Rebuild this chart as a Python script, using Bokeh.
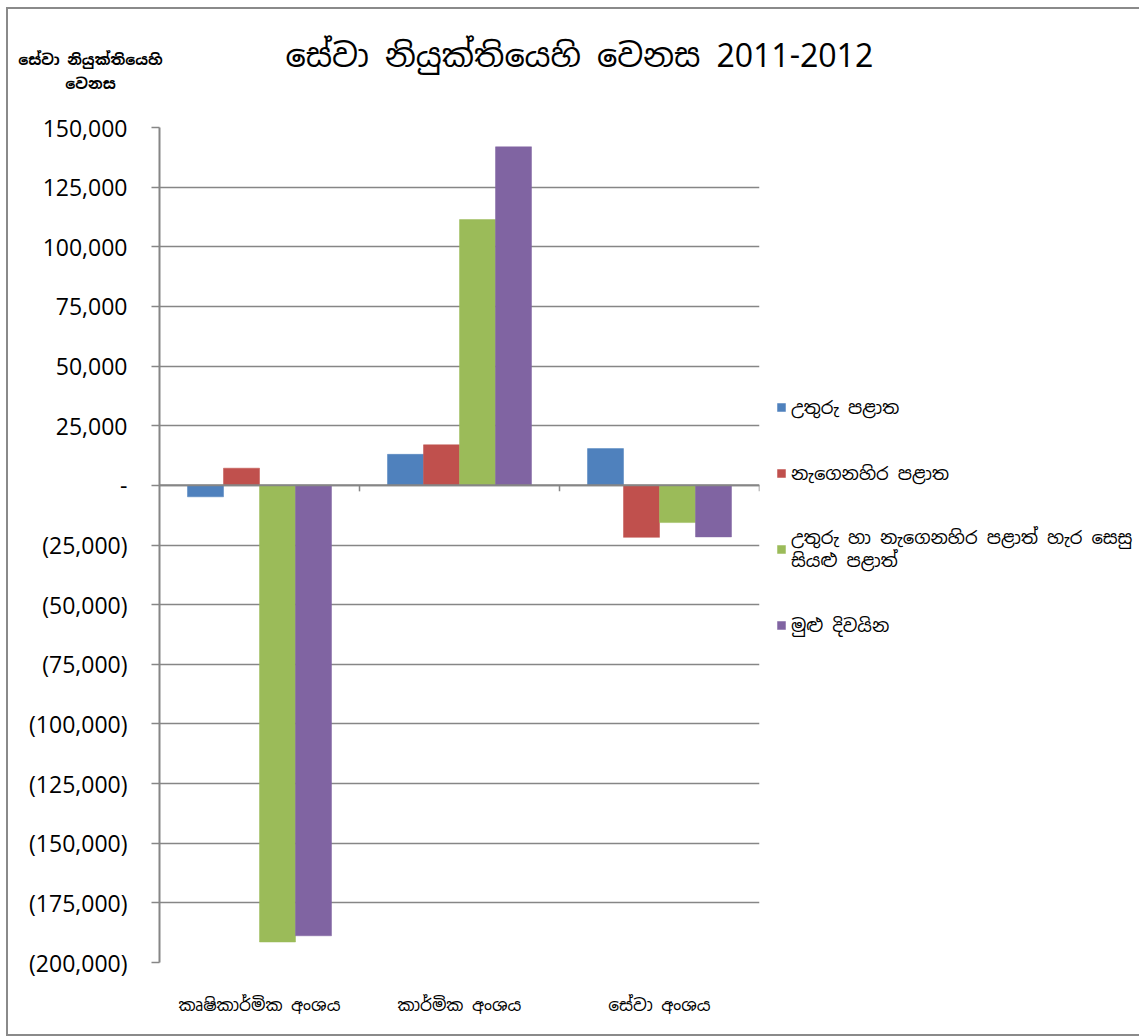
import math
from bokeh.plotting import figure
from bokeh.models import FactorRange, Range1d, FixedTicker, Span, Label, Legend, LegendItem
from bokeh.transform import dodge
from bokeh.embed import file_html
from bokeh.resources import INLINE

# ---- data ----
categories = ["කෘෂිකාර්මික අංශය", "කාර්මික අංශය", "සේවා අංශය"]
series_names = [
    "උතුරු පළාත",
    "නැගෙනහිර පළාත",
    "උතුරු හා නැගෙනහිර පළාත් හැර සෙසු\nසියළු පළාත්",
    "මුළු දිවයින",
]
northern = [-4800, 13000, 15400]
eastern = [7200, 17000, -21800]
other_provinces = [-191400, 111400, -15600]
all_island = [-188800, 141900, -21600]
series_colors = ["#4F81BD", "#C0504D", "#9BBB59", "#8064A2"]

y_ticks = [150000, 125000, 100000, 75000, 50000, 25000, 0, -25000, -50000,
           -75000, -100000, -125000, -150000, -175000, -200000]
y_tick_labels = ["150,000", "125,000", "100,000", "75,000", "50,000", "25,000", "-",
                 "(25,000)", "(50,000)", "(75,000)", "(100,000)", "(125,000)",
                 "(150,000)", "(175,000)", "(200,000)"]

title_text = "සේවා නියුක්තියෙහි වෙනස 2011-2012"
y_title_text = "සේවා නියුක්තියෙහි\nවෙනස"

SIN = "Noto Sans Sinhala, Iskoola Pota, Noto Sans, DejaVu Sans, sans-serif"
NUM = "Open Sans"
GRID = "#868686"

data = dict(cat=categories, s0=northern, s1=eastern, s2=other_provinces, s3=all_island)

p = figure(
    frame_width=600, frame_height=835,
    x_range=FactorRange(factors=categories),
    y_range=Range1d(-200000, 150000),
    output_backend="svg", toolbar_location=None,
    min_border_left=151, min_border_right=378,
    min_border_top=118, min_border_bottom=72,
)
p.outline_line_color = None
p.background_fill_color = "white"
p.border_fill_color = "white"
p.styles = {"border": "2px solid #8a8a8a", "margin-left": "6px", "margin-top": "7px"}

offsets = [-0.27, -0.09, 0.09, 0.27]
renderers = []
for i, key in enumerate(["s0", "s1", "s2", "s3"]):
    r = p.vbar(x=dodge("cat", offsets[i], range=p.x_range), top=key, bottom=0,
               width=0.18, source=data, fill_color=series_colors[i],
               line_color=series_colors[i], line_width=0.5)
    renderers.append(r)

# grid
p.xgrid.grid_line_color = None
p.ygrid.ticker = FixedTicker(ticks=y_ticks)
p.ygrid.grid_line_color = GRID
p.ygrid.grid_line_width = 1.5

# zero line with category boundary ticks
p.add_layout(Span(location=0, dimension="width", line_color=GRID, line_width=2))
p.ray(x=[1, 2, 3], y=[0, 0, 0], length=6, length_units="screen",
      angle=-math.pi / 2, line_color=GRID, line_width=1.5)

# y axis
ya = p.yaxis[0]
ya.ticker = FixedTicker(ticks=y_ticks)
ya.major_label_overrides = {t: l for t, l in zip(y_ticks, y_tick_labels)}
ya.axis_line_color = GRID
ya.axis_line_width = 2
ya.major_tick_line_color = GRID
ya.major_tick_line_width = 1.5
ya.major_tick_out = 8
ya.major_tick_in = 0
ya.minor_tick_line_color = None
ya.major_label_standoff = 24
ya.major_label_text_font = NUM
ya.major_label_text_font_size = "23px"
ya.major_label_text_color = "black"

# x axis
xa = p.xaxis[0]
xa.axis_line_color = None
xa.major_tick_line_color = None
xa.minor_tick_line_color = None
xa.major_label_standoff = 25
xa.major_label_text_font = SIN
xa.major_label_text_font_size = "17px"
xa.major_label_text_color = "black"

# titles as labels in the above panel
p.add_layout(Label(x=126, y=72, x_units="screen", y_units="screen", text=title_text,
                   text_align="left", text_baseline="middle",
                   text_font=SIN, text_font_size="32px",
                   text_color="black"), "above")
p.add_layout(Label(x=-69, y=15, x_units="screen", y_units="screen", text=y_title_text,
                   text_align="center", text_baseline="middle",
                   text_font=SIN, text_font_size="15px", text_font_style="bold",
                   text_color="black", text_line_height=1.3), "above")

legend = Legend(
    items=[LegendItem(label=n, renderers=[r]) for n, r in zip(series_names, renderers)],
    location=(17, 324),
    label_text_font=SIN, label_text_font_size="18px", label_text_color="black",
    glyph_width=10, glyph_height=10, label_standoff=5, label_height=26,
    spacing=40, padding=0, margin=0,
    border_line_color=None, background_fill_alpha=0,
)
p.add_layout(legend, "right")

open("out.html", "w").write(file_html(p, INLINE))
